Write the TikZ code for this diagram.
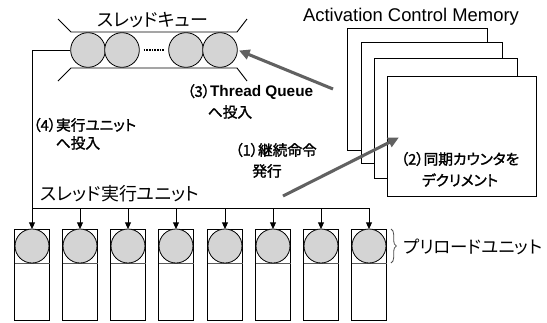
\documentclass[tikz,border=0pt]{standalone}
\usepackage{fontspec}
\setmainfont{Liberation Sans}
\newfontfamily\jp{Noto Sans CJK JP}[RawFeature={+palt}]
\newfontfamily\jpheavy{Noto Sans CJK JP}[RawFeature={+palt},FakeBold=1.6]
\usetikzlibrary{arrows.meta,decorations.pathreplacing,calc}

\tikzset{
  ball/.style={circle,draw=black,line width=0.6pt,fill=black!17,minimum size=26pt,inner sep=0pt},
  unitbox/.style={draw=black,line width=0.6pt,minimum width=26.25pt,minimum height=68.25pt,inner sep=0pt,anchor=north},
  sheet/.style={draw=black,line width=0.6pt,fill=white},
  wire/.style={line width=0.7pt,draw=black},
  feed/.style={wire,-{Triangle[length=5pt,width=4.5pt]}},
  bigarrow/.style={line width=2.3pt,draw=black!62,-{Triangle[length=8pt,width=7.5pt]},shorten >=1pt},
  title/.style={font=\jp\fontsize{13.5pt}{15pt}\selectfont,inner sep=0pt},
  note/.style={font=\jpheavy\fontsize{11pt}{12pt}\selectfont,inner sep=0pt},
}

\begin{document}
\begin{tikzpicture}[x=0.75pt,y=-0.75pt]
\useasboundingbox (0,0) rectangle (547,322);

% --- thread queue ---------------------------------------------------
\draw[wire] (58,19) -- (71,32) -- (237,32) -- (247,19);
\draw[wire] (58,81) -- (71,68) -- (237,68) -- (247,81);
\node[ball] (q1) at (88,50) {};
\node[ball] (q2) at (122,50) {};
\node[ball] (q3) at (186,50) {};
\node[ball] (q4) at (220,50) {};
\draw[line width=1.4pt,dash pattern=on 1.2pt off 0.8pt] ($(q2.east)+(4,0)$) -- ($(q3.west)+(-4,0)$);
\node[title] (qlabel) at (153,20) {スレッドキュー};

% --- activation control memory ---------------------------------------
\node[font=\fontsize{13.8pt}{16pt}\selectfont,inner sep=0pt] (acm) at (411,17) {Activation Control Memory};
\draw[sheet] (347,28) rectangle (487,150);
\draw[sheet] (361,42) rectangle (502,163);
\draw[sheet] (374,58) rectangle (517,178);
\draw[sheet] (387,76) rectangle (536,196);
\node[note] (n2a) at (460,159) {（2）同期カウンタを};
\node[note] (n2b) at (460,180) {デクリメント};

% --- execution units ----------------------------------------------------
\foreach \i/\x in {1/32,2/80,3/128,4/176,5/225,6/273,7/321,8/369}{
  \node[unitbox] (u\i) at (\x,229) {};
  \draw[black!65,line width=0.6pt] (\x-17.5,263) -- (\x+17.5,263);
  \node[ball,minimum size=25.5pt] (p\i) at (\x,246) {};
  \coordinate (b\i) at (\x,208);
  \draw[feed] (b\i) -- (u\i.north);
}
\draw[wire] (q1.west) -- (32,50) -- (b1) -- (b8);
\node[title] (xlabel) at (120,194) {スレッド実行ユニット};

\draw[black!70,line width=0.6pt,decorate,
      decoration={brace,amplitude=4pt}] (391,229) -- (391,263);
\node[title,anchor=west,font=\jp\fontsize{13.1pt}{15pt}\selectfont] (plabel) at (403,247) {プリロードユニット};

% --- step labels ------------------------------------------------------
\node[note,anchor=west] (n3a) at (187,92) {（3）\fontspec{Liberation Sans}\bfseries\fontsize{11.5pt}{12pt}\selectfont Thread Queue};
\node[note] (n3b) at (230,112) {へ投入};
\node[note,anchor=west] (n4a) at (33,125) {（4）実行ユニット};
\node[note] (n4b) at (78,143) {へ投入};
\node[note,anchor=west] (n1a) at (235,150) {（1）継続命令};
\node[note] (n1b) at (267,171) {発行};

% --- gray flow arrows -------------------------------------------------
\coordinate (s3) at (333,89);
\coordinate (s1) at (283,196);
\coordinate (t1) at (400,137);
\draw[bigarrow] (s3) -- (q4.east);
\draw[bigarrow] (s1) -- (t1);
\end{tikzpicture}
\end{document}
